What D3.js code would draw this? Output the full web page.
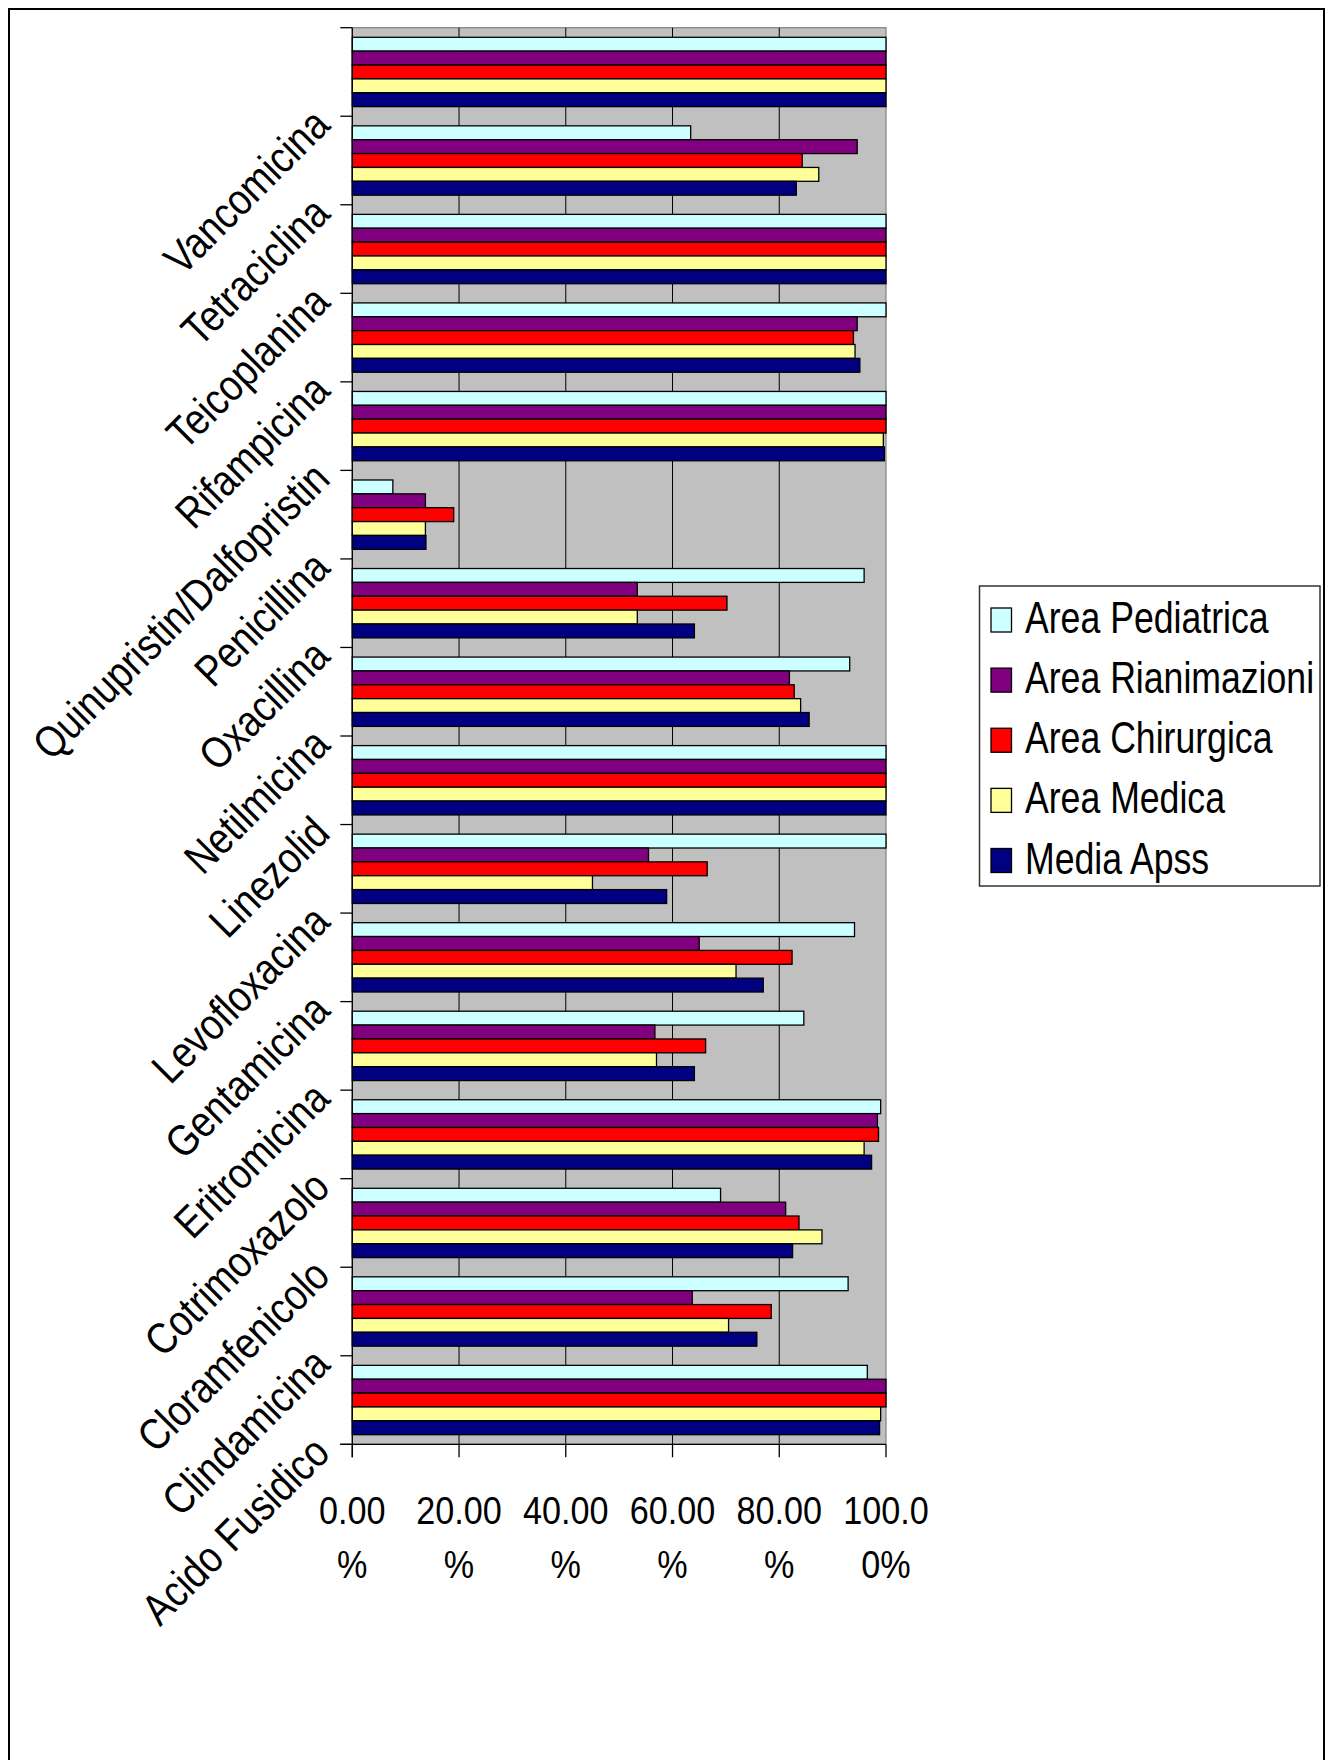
<!DOCTYPE html>
<html>
<head>
<meta charset="utf-8">
<script src="https://cdn.jsdelivr.net/npm/d3@7"></script>
<style>
  html, body { margin: 0; padding: 0; background: #ffffff; }
  svg { display: block; }
  text { font-family: "Liberation Sans", Arial, Helvetica, sans-serif; fill: #000; }
</style>
</head>
<body>
<svg id="chart" width="1332" height="1760"></svg>
<script>
// ---------------- data ----------------
const categories = ["Vancomicina", "Tetraciclina", "Teicoplanina", "Rifampicina",
  "Quinupristin/Dalfopristin", "Penicillina", "Oxacillina", "Netilmicina", "Linezolid",
  "Levofloxacina", "Gentamicina", "Eritromicina", "Cotrimoxazolo", "Cloramfenicolo",
  "Clindamicina", "Acido Fusidico"];

const seriesNames = ["Area Pediatrica", "Area Rianimazioni", "Area Chirurgica", "Area Medica", "Media Apss"];

const areaPediatrica   = [100, 63.4, 100, 100, 100, 7.6, 95.9, 93.2, 100, 100, 94.1, 84.6, 99.0, 69.0, 92.9, 96.5];
const areaRianimazioni = [100, 94.6, 100, 94.6, 100, 13.7, 53.4, 81.9, 100, 55.5, 65.0, 56.7, 98.4, 81.2, 63.7, 100];
const areaChirurgica   = [100, 84.3, 100, 93.9, 100, 19.0, 70.2, 82.8, 100, 66.5, 82.4, 66.2, 98.6, 83.7, 78.5, 100];
const areaMedica       = [100, 87.4, 100, 94.2, 99.5, 13.7, 53.4, 84.0, 100, 45.0, 71.9, 57.0, 95.9, 88.0, 70.5, 99.0];
const mediaApss        = [100, 83.2, 100, 95.1, 99.7, 13.8, 64.1, 85.6, 100, 58.9, 77.0, 64.1, 97.3, 82.5, 75.8, 98.8];

const xTickValues = [0, 20, 40, 60, 80, 100];

// ---------------- styles ----------------
const seriesValues = [areaPediatrica, areaRianimazioni, areaChirurgica, areaMedica, mediaApss];
const colors = ["#CCFFFF", "#800080", "#FF0000", "#FFFF99", "#000080"];

const svg = d3.select("#chart");

// outer frame
svg.append("rect")
  .attr("x", 9).attr("y", 9)
  .attr("width", 1315).attr("height", 1800)
  .attr("fill", "none").attr("stroke", "#000").attr("stroke-width", 2);

const plot = { left: 352.3, right: 886, top: 27.7, bottom: 1444.3 };

const x = d3.scaleLinear().domain([0, 100]).range([plot.left, plot.right]);
const y0 = d3.scaleBand().domain(categories).range([plot.top, plot.bottom]).padding(0);
const padBand = 9.6;
const y1 = d3.scaleBand().domain(seriesNames).range([padBand, y0.bandwidth() - padBand]).padding(0);

// plot background
svg.append("rect")
  .attr("x", plot.left).attr("y", plot.top)
  .attr("width", plot.right - plot.left).attr("height", plot.bottom - plot.top)
  .attr("fill", "#C0C0C0").attr("stroke", "#808080").attr("stroke-width", 1.2);

// vertical gridlines
svg.append("g").selectAll("line")
  .data(xTickValues.filter(v => v > 0 && v < 100))
  .join("line")
  .attr("x1", d => x(d)).attr("x2", d => x(d))
  .attr("y1", plot.top).attr("y2", plot.bottom)
  .attr("stroke", "#000").attr("stroke-width", 1);

// bars
const groups = svg.append("g").selectAll("g")
  .data(categories)
  .join("g")
  .attr("transform", c => `translate(0,${y0(c)})`);

groups.selectAll("rect")
  .data((c, i) => seriesNames.map((s, j) => ({ s, j, v: seriesValues[j][i] })))
  .join("rect")
  .attr("x", x(0))
  .attr("y", d => y1(d.s))
  .attr("width", d => x(d.v) - x(0))
  .attr("height", y1.bandwidth())
  .attr("fill", d => colors[d.j])
  .attr("stroke", "#000")
  .attr("stroke-width", 1.3);

// left axis (category)
const yAxisG = svg.append("g");
yAxisG.append("line")
  .attr("x1", plot.left).attr("x2", plot.left)
  .attr("y1", plot.top).attr("y2", plot.bottom + 13)
  .attr("stroke", "#000").attr("stroke-width", 1.3);
const boundaries = [plot.top].concat(categories.map(c => y0(c) + y0.bandwidth()));
yAxisG.selectAll("line.tick")
  .data(boundaries)
  .join("line").attr("class", "tick")
  .attr("x1", plot.left - 12).attr("x2", plot.left)
  .attr("y1", d => d).attr("y2", d => d)
  .attr("stroke", "#000").attr("stroke-width", 1.3);

// category labels (rotated)
svg.append("defs").append("clipPath").attr("id", "labelClip")
  .append("rect").attr("x", 10).attr("y", 10).attr("width", 323).attr("height", 1750);

svg.append("g").attr("clip-path", "url(#labelClip)")
  .selectAll("text")
  .data(categories)
  .join("text")
  .attr("transform", c => `translate(332,${y0(c) + y0.bandwidth() + 11}) rotate(-45) scale(0.85,1)`)
  .attr("text-anchor", "end")
  .attr("font-size", 44)
  .text(c => c);

// bottom axis (value)
const xAxisG = svg.append("g");
xAxisG.append("line")
  .attr("x1", plot.left - 12).attr("x2", plot.right)
  .attr("y1", plot.bottom).attr("y2", plot.bottom)
  .attr("stroke", "#000").attr("stroke-width", 1.3);
xAxisG.selectAll("line.tick")
  .data(xTickValues)
  .join("line").attr("class", "tick")
  .attr("x1", d => x(d)).attr("x2", d => x(d))
  .attr("y1", plot.bottom).attr("y2", plot.bottom + 13)
  .attr("stroke", "#000").attr("stroke-width", 1.3);

const fmt = d3.format(".2%");
// labels wrap onto two lines, as in the reference: at most 5 digits on line 1
const line1 = v => fmt(v / 100).slice(0, -1).slice(0, 5);
const line2 = v => fmt(v / 100).slice(0, -1).slice(5) + "%";
const tickLabels = xAxisG.selectAll("g.lbl")
  .data(xTickValues)
  .join("g").attr("class", "lbl")
  .attr("transform", d => `translate(${x(d)},0)`);
tickLabels.append("text")
  .attr("transform", "translate(0,1524) scale(0.9,1)")
  .attr("text-anchor", "middle").attr("font-size", 38)
  .text(d => line1(d));
tickLabels.append("text")
  .attr("transform", "translate(0,1578) scale(0.9,1)")
  .attr("text-anchor", "middle").attr("font-size", 38)
  .text(d => line2(d));

// legend
const legend = svg.append("g");
legend.append("rect")
  .attr("x", 979.5).attr("y", 586)
  .attr("width", 340.5).attr("height", 300)
  .attr("fill", "#fff").attr("stroke", "#333").attr("stroke-width", 1.5);

const ly = d3.scalePoint().domain(seriesNames).range([620, 860.5]);
const items = legend.selectAll("g.item")
  .data(seriesNames)
  .join("g").attr("class", "item")
  .attr("transform", s => `translate(0,${ly(s)})`);
items.append("rect")
  .attr("x", 991).attr("y", -12)
  .attr("width", 20.5).attr("height", 24)
  .attr("fill", (s, j) => colors[j])
  .attr("stroke", "#000").attr("stroke-width", 1.3);
items.append("text")
  .attr("transform", "translate(1025,13) scale(0.81,1)")
  .attr("font-size", 44)
  .text(s => s);
</script>
</body>
</html>
